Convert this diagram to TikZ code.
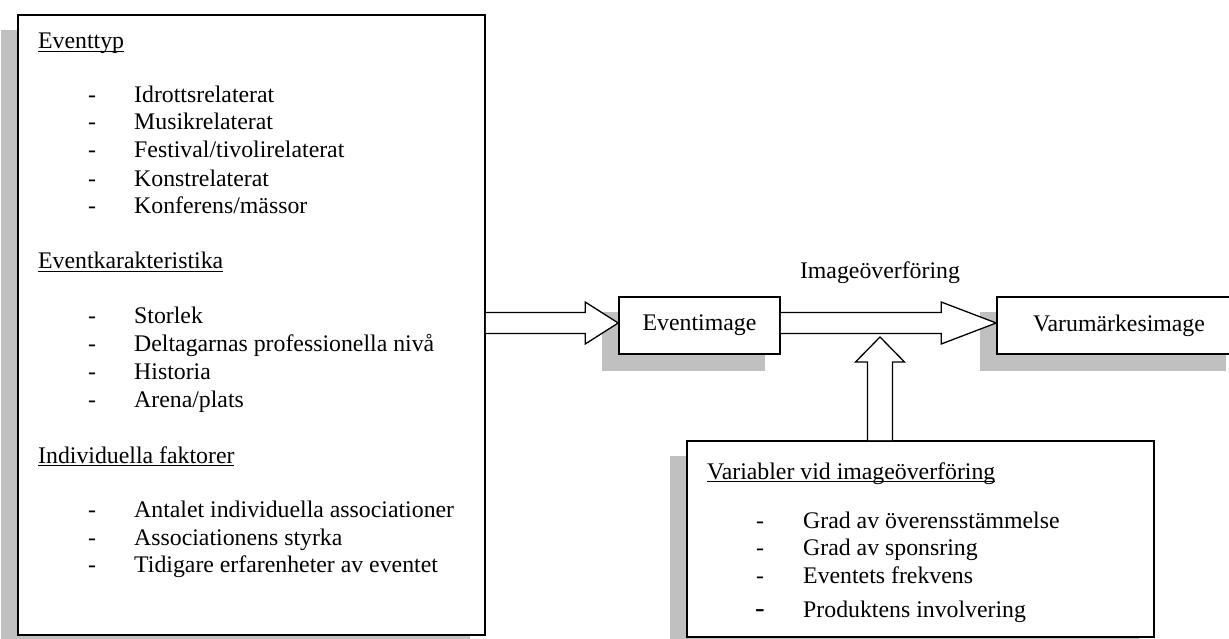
\documentclass[tikz,border=0pt]{standalone}
\usepackage{fontspec}
\setmainfont{Liberation Serif}
\usetikzlibrary{calc}
\definecolor{shadowgray}{RGB}{192,192,192}
\newcommand\myul[1]{\setbox0=\hbox{#1}\rlap{\rule[-3.4pt]{\wd0}{1.2pt}}\box0}
\pgfdeclarelayer{bg}
\pgfsetlayers{bg,main}
\begin{document}
\begin{tikzpicture}[x=1pt,y=-1pt,
  box/.style={draw=black, line width=1.6pt, fill=white, rectangle, inner sep=0pt,
    font=\fontsize{23.8}{28}\selectfont},
  txt/.style={anchor=base west, inner sep=0pt, font=\fontsize{23.8}{28}\selectfont},
  bigarrow/.style={draw=black, line width=1.3pt, fill=white, line join=miter}]
\useasboundingbox (0,0) rectangle (1229,639);

% boxes
\node[box, minimum width=467pt, minimum height=620pt] (left) at (251.5,325) {};
\node[box, minimum width=161pt, minimum height=57pt] (event) at (699.5,325.5) {Eventimage};
\node[box, minimum width=244pt, minimum height=57pt] (brand) at (1119,325.5) {Varumärkesimage};
\node[box, minimum width=467pt, minimum height=196pt] (vars) at (920.5,539) {};

% shadows
\begin{pgfonlayer}{bg}
\foreach \n in {left,event,brand,vars}{
  \fill[shadowgray] ([shift={(-16,16)}]\n.north west) rectangle ([shift={(-16,16)}]\n.south east);
}
\end{pgfonlayer}

% left box text
\node[txt] (h1) at (38,49) {\myul{Eventtyp}};
\foreach \y/\t [count=\i] in {103/Idrottsrelaterat,130/Musikrelaterat,158/Festival\slash tivolirelaterat,186.5/Konstrelaterat,214/Konferens\slash mässor}{
  \node[txt] (d1\i) at (88,\y) {-};
  \node[txt] (i1\i) at (134,\y) {\t};
}
\node[txt] (h2) at (38,269) {\myul{Eventkarakteristika}};
\foreach \y/\t [count=\i] in {323/Storlek,351/Deltagarnas professionella nivå,379/Historia,407/Arena\slash plats}{
  \node[txt] (d2\i) at (88,\y) {-};
  \node[txt] (i2\i) at (134,\y) {\t};
}
\node[txt] (h3) at (38,463) {\myul{Individuella faktorer}};
\foreach \y/\t [count=\i] in {517/Antalet individuella associationer,545/Associationens styrka,572/Tidigare erfarenheter av eventet}{
  \node[txt] (d3\i) at (88,\y) {-};
  \node[txt] (i3\i) at (134,\y) {\t};
}

% variables box text
\node[txt] (h4) at (707,479) {\myul{Variabler vid imageöverföring}};
\foreach \y/\t [count=\i] in {528/Grad av överensstämmelse,555/Grad av sponsring,583/Eventets frekvens}{
  \node[txt] (d4\i) at (756,\y) {-};
  \node[txt] (i4\i) at (803,\y) {\t};
}
\node[txt, font=\fontsize{29}{32}\selectfont] (d44) at (755,617) {-};
\node[txt] (i44) at (803,617) {Produktens involvering};

% label
\node[anchor=base, inner sep=0pt, font=\fontsize{23.8}{28}\selectfont] (lab) at (880,279) {Imageöverföring};

% block arrows
\coordinate (t1) at ($(event.west)+(0,-2.5)$);
\draw[bigarrow] ($(left.east|-t1)+(0,-10.5)$) -- ($(t1)+(-33,-10.5)$) -- ($(t1)+(-33,-21)$)
  -- (t1) -- ($(t1)+(-33,21)$) -- ($(t1)+(-33,10.5)$) -- ($(left.east|-t1)+(0,10.5)$);

\coordinate (t2) at ($(brand.west)+(0,-2.5)$);
\draw[bigarrow] ($(event.east|-t2)+(0,-10.5)$) -- ($(t2)+(-55,-10.5)$) -- ($(t2)+(-55,-21)$)
  -- (t2) -- ($(t2)+(-55,21)$) -- ($(t2)+(-55,10.5)$) -- ($(event.east|-t2)+(0,10.5)$);

\coordinate (t3) at (880,337);
\draw[bigarrow] ($(vars.north-|t3)+(-12.5,0)$) -- ($(t3)+(-12.5,25)$) -- ($(t3)+(-24.5,25)$)
  -- (t3) -- ($(t3)+(24.5,25)$) -- ($(t3)+(12.5,25)$) -- ($(vars.north-|t3)+(12.5,0)$);
\end{tikzpicture}
\end{document}
